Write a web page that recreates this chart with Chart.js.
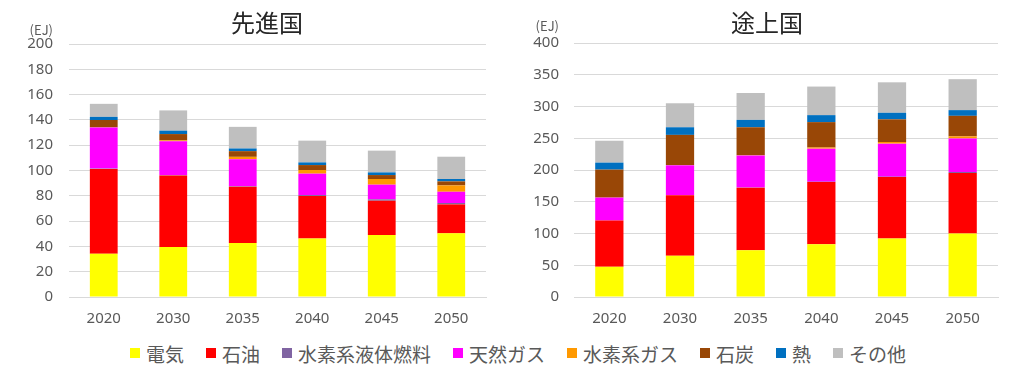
<!DOCTYPE html>
<html><head><meta charset="utf-8">
<script src="https://cdn.jsdelivr.net/npm/chart.js@4/dist/chart.umd.min.js"></script>
<style>
html,body{margin:0;padding:0;background:#fff;width:1024px;height:378px;overflow:hidden;}
#w1{position:absolute;left:0;top:0;width:512px;height:330px;}
#w2{position:absolute;left:512px;top:0;width:512px;height:330px;}
.ttl{position:absolute;top:5px;width:200px;text-align:center;font-family:"Noto Sans CJK JP","Noto Sans",sans-serif;font-size:24px;line-height:34px;color:#262626;}
#t1{left:167px;}
#t2{left:667px;}
#legend{position:absolute;left:0;top:338px;width:1024px;height:30px;display:flex;justify-content:center;align-items:center;padding-left:12px;box-sizing:border-box;
font-family:"Noto Sans CJK JP","Noto Sans",sans-serif;font-size:19px;color:#595959;}
.item{display:flex;align-items:center;margin:0 11px;}
.sw{width:10px;height:10px;margin-right:6px;}
</style></head>
<body>
<div id="w1"><canvas id="c1"></canvas></div>
<div id="w2"><canvas id="c2"></canvas></div>
<div class="ttl" id="t1"></div>
<div class="ttl" id="t2"></div>
<div id="legend"></div>
<script>
const categories = ["2020","2030","2035","2040","2045","2050"];
const seriesNames = ["電気","石油","水素系液体燃料","天然ガス","水素系ガス","石炭","熱","その他"];
const seriesColors = ["#FFFF00","#FF0000","#8064A2","#FF00FF","#FF9900","#994706","#0070C0","#BFBFBF"];

// 先進国
const adv_electricity = [34.2, 39.5, 42.7, 46.3, 49.0, 50.3];
const adv_oil         = [67.0, 56.6, 44.5, 33.5, 27.1, 22.9];
const adv_h2liquid    = [0.3, 0.3, 0.4, 0.8, 1.1, 1.1];
const adv_gas         = [32.5, 26.7, 21.3, 16.9, 11.6, 8.9];
const adv_h2gas       = [0.1, 0.7, 1.9, 2.9, 4.5, 5.0];
const adv_coal        = [5.8, 5.0, 4.5, 3.9, 3.1, 3.2];
const adv_heat        = [2.5, 2.7, 2.1, 2.1, 2.1, 1.9];
const adv_other       = [10.3, 16.0, 17.1, 17.2, 17.2, 17.6];

// 途上国
const dev_electricity = [47.6, 64.9, 73.8, 83.2, 92.1, 100.0];
const dev_oil         = [72.8, 95.3, 98.4, 97.9, 96.7, 95.3];
const dev_h2liquid    = [0.1, 0.2, 0.3, 0.5, 0.7, 1.6];
const dev_gas         = [36.0, 47.0, 50.3, 52.0, 52.0, 52.9];
const dev_h2gas       = [0.1, 0.3, 0.5, 1.8, 2.6, 3.2];
const dev_coal        = [44.0, 47.6, 44.0, 40.0, 35.7, 32.3];
const dev_heat        = [11.0, 12.0, 11.6, 11.0, 10.3, 9.0];
const dev_other       = [34.5, 37.8, 42.4, 45.0, 48.0, 48.7];

const advTitle = "先進国", devTitle = "途上国", unitLabel = "(EJ)";
const advMax = 200, advStep = 20, devMax = 400, devStep = 50;

const advSeries = [adv_electricity, adv_oil, adv_h2liquid, adv_gas, adv_h2gas, adv_coal, adv_heat, adv_other];
const devSeries = [dev_electricity, dev_oil, dev_h2liquid, dev_gas, dev_h2gas, dev_coal, dev_heat, dev_other];

document.getElementById('t1').textContent = advTitle;
document.getElementById('t2').textContent = devTitle;

const numFont = '"Noto Sans","Liberation Sans",sans-serif';
const cjkFont = '"Noto Sans CJK JP","Noto Sans",sans-serif';

function unitPlugin(dx, dy){
  return {
    id:'unit',
    afterDraw(chart){
      const ctx = chart.ctx, a = chart.chartArea;
      ctx.save();
      ctx.font = '13px ' + cjkFont;
      ctx.fillStyle = '#595959';
      ctx.textAlign = 'right';
      ctx.textBaseline = 'middle';
      ctx.fillText(unitLabel, a.left - dx, a.top - dy);
      ctx.restore();
    }
  };
}

function makeChart(id, series, max, step, padTop, yW, tickPad, unitDy){
  return new Chart(document.getElementById(id), {
    type:'bar',
    data:{
      labels: categories,
      datasets: series.map((d,i)=>({
        label: seriesNames[i], data: d, backgroundColor: seriesColors[i],
        borderWidth:0, categoryPercentage:1.0, barPercentage:0.4, stack:'s'
      }))
    },
    options:{
      responsive:true, maintainAspectRatio:false, animation:false,
      layout:{padding:{left:0, right:26, top:padTop, bottom:0}},
      plugins:{ legend:{display:false}, tooltip:{enabled:false}, title:{display:false} },
      scales:{
        x:{stacked:true,
          grid:{display:false, drawTicks:false},
          border:{display:true, color:'#D9D9D9', width:1},
          ticks:{color:'#595959', padding:13, font:{family:numFont, size:15}},
          afterFit(s){ s.height = 33; }
        },
        y:{stacked:true, min:0, max:max,
          grid:{color:'#D9D9D9', lineWidth:1, drawTicks:false},
          border:{display:false},
          ticks:{stepSize:step, color:'#595959', padding:tickPad, font:{family:numFont, size:15}},
          afterFit(s){ s.width = yW; }
        }
      }
    },
    plugins:[unitPlugin(tickPad, unitDy)]
  });
}

makeChart('c1', advSeries, advMax, advStep, 44, 69, 16, 14);
makeChart('c2', devSeries, devMax, devStep, 43, 62, 15, 17);

const lg = document.getElementById('legend');
seriesNames.forEach((n,i)=>{
  const it = document.createElement('div'); it.className='item';
  const sw = document.createElement('div'); sw.className='sw'; sw.style.background = seriesColors[i];
  const t = document.createElement('span'); t.textContent = n;
  it.appendChild(sw); it.appendChild(t); lg.appendChild(it);
});
</script>
</body></html>
